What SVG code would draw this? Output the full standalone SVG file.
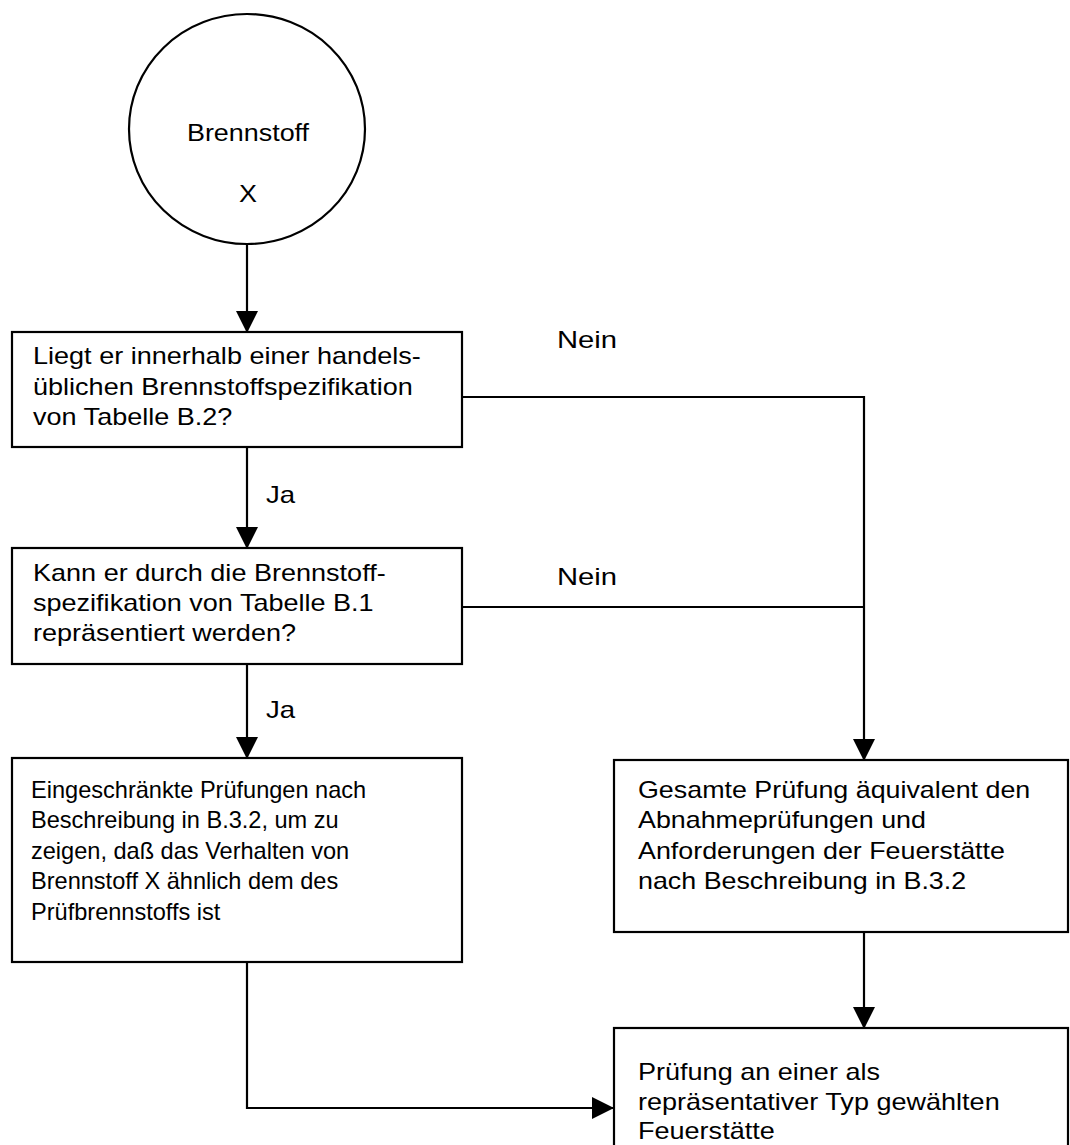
<svg xmlns="http://www.w3.org/2000/svg" width="1070" height="1145" viewBox="0 0 1070 1145">
<style>
  .box { fill: #fff; stroke: #000; stroke-width: 2.2; }
  .con { fill: none; stroke: #000; stroke-width: 2.2; }
  text { font-family: "Liberation Sans", Arial, sans-serif; font-size: 23px; fill: #000; }
</style>
<defs>
  <marker id="arr" markerWidth="22" markerHeight="22" refX="21" refY="11" orient="auto" markerUnits="userSpaceOnUse">
    <path d="M0,0 L22,11 L0,22 Z" fill="#000"/>
  </marker>
</defs>
<rect width="1070" height="1145" fill="#fff"/>

<g id="connectors">
  <line class="con" x1="247" y1="243" x2="247" y2="332" marker-end="url(#arr)"/>
  <line class="con" x1="247" y1="447" x2="247" y2="548" marker-end="url(#arr)"/>
  <line class="con" x1="247" y1="664" x2="247" y2="758" marker-end="url(#arr)"/>
  <polyline class="con" points="462,397 864,397 864,760" marker-end="url(#arr)"/>
  <line class="con" x1="462" y1="607" x2="864" y2="607"/>
  <line class="con" x1="864" y1="932" x2="864" y2="1028" marker-end="url(#arr)"/>
  <polyline class="con" points="247,962 247,1108 613,1108" marker-end="url(#arr)"/>
  <text transform="translate(266,503) scale(1.2,1)">Ja</text>
  <text transform="translate(266,718) scale(1.2,1)">Ja</text>
  <text transform="translate(557,348) scale(1.27,1)">Nein</text>
  <text transform="translate(557,585) scale(1.27,1)">Nein</text>
</g>

<g id="start">
  <ellipse class="box" cx="247" cy="129" rx="118" ry="115"/>
  <text transform="translate(248,141) scale(1.17,1)" text-anchor="middle">Brennstoff</text>
  <text transform="translate(248,202) scale(1.17,1)" text-anchor="middle">X</text>
</g>

<g id="q1">
  <rect class="box" x="12" y="332" width="450" height="115"/>
  <text transform="translate(33,364) scale(1.176,1)"><tspan x="0" y="0">Liegt er innerhalb einer handels-</tspan><tspan x="0" y="31">üblichen Brennstoffspezifikation</tspan><tspan x="0" y="61">von Tabelle B.2?</tspan></text>
</g>

<g id="q2">
  <rect class="box" x="12" y="548" width="450" height="116"/>
  <text transform="translate(33,581) scale(1.176,1)"><tspan x="0" y="0">Kann er durch die Brennstoff-</tspan><tspan x="0" y="30">spezifikation von Tabelle B.1</tspan><tspan x="0" y="60">repräsentiert werden?</tspan></text>
</g>

<g id="limited">
  <rect class="box" x="12" y="758" width="450" height="204"/>
  <text transform="translate(31,798) scale(1.025,1)"><tspan x="0" y="0">Eingeschränkte Prüfungen nach</tspan><tspan x="0" y="30.5">Beschreibung in B.3.2, um zu</tspan><tspan x="0" y="61">zeigen, daß das Verhalten von</tspan><tspan x="0" y="91.5">Brennstoff X ähnlich dem des</tspan><tspan x="0" y="122">Prüfbrennstoffs ist</tspan></text>
</g>

<g id="full">
  <rect class="box" x="614" y="760" width="454" height="172"/>
  <text transform="translate(638,798) scale(1.167,1)"><tspan x="0" y="0">Gesamte Prüfung äquivalent den</tspan><tspan x="0" y="30">Abnahmeprüfungen und</tspan><tspan x="0" y="61">Anforderungen der Feuerstätte</tspan><tspan x="0" y="91">nach Beschreibung in B.3.2</tspan></text>
</g>

<g id="representative">
  <rect class="box" x="614" y="1028" width="454" height="130"/>
  <text transform="translate(638,1080) scale(1.176,1)"><tspan x="0" y="0">Prüfung an einer als</tspan><tspan x="0" y="30">repräsentativer Typ gewählten</tspan><tspan x="0" y="59">Feuerstätte</tspan></text>
</g>
</svg>
